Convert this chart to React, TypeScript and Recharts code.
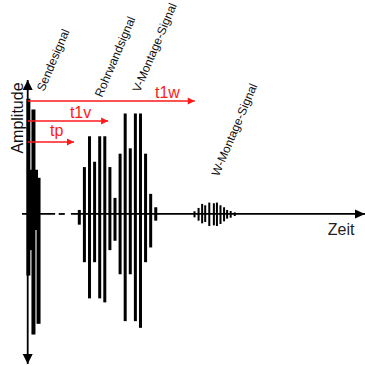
import { ComposedChart, Bar, XAxis, YAxis, ReferenceLine, ReferenceDot } from 'recharts';

// Zeit in willkürlichen Einheiten (eine Schwingungsperiode = 1), Amplitude normiert
const sendeTime = [1, 1.5, 2, 2.5, 3];
const sendeHigh = [0.86, 0.33, 0.78, 0.33, 0.27];
const sendeLow = [-0.46, -0.27, -0.9, -0.12, -0.82];

const wandTime = [11, 12, 13, 14, 15, 16, 17, 18, 19, 20, 21, 22, 23, 24, 25, 26];
const wandHigh = [0.03, 0.35, 0.58, 0.39, 0.58, 0.58, 0.35, 0.12, 0.45, 0.75, 0.49, 0.75, 0.75, 0.45, 0.15, 0.05];
const wandLow = [-0.08, -0.36, -0.63, -0.36, -0.63, -0.66, -0.27, -0.2, -0.45, -0.8, -0.45, -0.8, -0.85, -0.36, -0.25, -0.05];

const wTime = [33.6, 34.4, 35.1, 35.7, 36.5, 37.4, 38.0, 38.7, 39.4, 40.0, 40.7, 41.5];
const wHigh = [0.02, 0.045, 0.075, 0.065, 0.085, 0.08, 0.085, 0.065, 0.05, 0.03, 0.022, 0.012];
const wLow = [-0.025, -0.05, -0.07, -0.06, -0.09, -0.085, -0.09, -0.075, -0.055, -0.035, -0.028, -0.015];

const signalNames = ['Sendesignal', 'Rohrwandsignal', 'V-Montage-Signal', 'W-Montage-Signal'];
const signalLabelTime = [4.0, 15.4, 22.8, 38.3];
const signalLabelAmp = [0.91, 0.866, 0.903, 0.276];

const runTimeNames = ['tp', 't1v', 't1w'];
const runTimeEnd = [9.9, 16.6, 33.6];
const runTimeAmp = [0.537, 0.694, 0.843];
const runTimeLabelTime = [5.2, 9.1, 25.8];
const runTimeLabelAmp = [0.582, 0.716, 0.866];

const axisTime = 0.82;
const timeDomain: [number, number] = [-0.3, 67];
const ampDomain: [number, number] = [-1.12, 1];

const FONT = '"Liberation Sans", Arial, sans-serif';

const barWidth: Record<string, number> = { sende: 4, wand: 3, w: 2 };

const data = [
  ...sendeTime.map((t, i) => ({ t, range: [sendeLow[i], sendeHigh[i]], group: 'sende' })),
  ...wandTime.map((t, i) => ({ t, range: [wandLow[i], wandHigh[i]], group: 'wand' })),
  ...wTime.map((t, i) => ({ t, range: [wLow[i], wHigh[i]], group: 'w' })),
];

function PulseBar(props: any) {
  const { x, y, width, height, payload } = props;
  const w = barWidth[payload.group] ?? 3;
  const cx = x + width / 2;
  const top = Math.min(y, y + height);
  return <rect x={cx - w / 2} y={top} width={w} height={Math.abs(height)} fill="#000" />;
}

function arrow(color: string, stroke: number, len: number, half: number, both: boolean) {
  return (p: any) => {
    const { x1, y1, x2, y2 } = p;
    const d = Math.hypot(x2 - x1, y2 - y1) || 1;
    const ux = (x2 - x1) / d;
    const uy = (y2 - y1) / d;
    const head = (tx: number, ty: number, sx: number, sy: number) => {
      const bx = tx - sx * len;
      const by = ty - sy * len;
      return `${tx},${ty} ${bx - sy * half},${by + sx * half} ${bx + sy * half},${by - sx * half}`;
    };
    return (
      <g>
        <line x1={x1} y1={y1} x2={x2} y2={y2} stroke={color} strokeWidth={stroke} />
        <polygon points={head(x2, y2, ux, uy)} fill={color} />
        {both && <polygon points={head(x1, y1, -ux, -uy)} fill={color} />}
      </g>
    );
  };
}

function textLabel(text: string, opts: { size: number; color: string; rotate?: number; anchor?: string }) {
  return (p: any) => {
    const vb = p.viewBox || {};
    const x = vb.x + (vb.width || 0) / 2;
    const y = vb.y + (vb.height || 0) / 2;
    return (
      <text
        x={x}
        y={y}
        fontSize={opts.size}
        fontFamily={FONT}
        fill={opts.color}
        textAnchor={opts.anchor || 'start'}
        transform={opts.rotate ? `rotate(${opts.rotate} ${x} ${y})` : undefined}
      >
        {text}
      </text>
    );
  };
}

export default function App() {
  return (
    <div style={{ position: 'absolute', left: 0, top: 0, width: 365, height: 366, background: '#fff' }}>
      <ComposedChart width={365} height={366} data={data} margin={{ top: 80, right: 0, bottom: 2, left: 22 }}>
        <XAxis dataKey="t" type="number" domain={timeDomain} allowDataOverflow hide />
        <YAxis type="number" domain={ampDomain} allowDataOverflow hide />

        {/* Zeitachse mit unterbrochenem Stück */}
        <ReferenceLine segment={[{ x: -0.3, y: 0 }, { x: 6.2, y: 0 }]} stroke="#000" strokeWidth={1.8} />
        <ReferenceLine segment={[{ x: 6.9, y: 0 }, { x: 8.1, y: 0 }]} stroke="#000" strokeWidth={1.8} />
        <ReferenceLine
          segment={[{ x: 9.3, y: 0 }, { x: 67, y: 0 }]}
          shape={arrow('#000', 1.8, 10, 4.5, false)}
        />
        {/* Amplitudenachse */}
        <ReferenceLine
          segment={[{ x: axisTime, y: -1.12 }, { x: axisTime, y: 1 }]}
          shape={arrow('#000', 1.8, 10, 5, true)}
        />

        <Bar dataKey="range" barSize={2} isAnimationActive={false} shape={<PulseBar />} />

        {runTimeNames.map((n, i) => (
          <ReferenceLine
            key={n}
            segment={[{ x: axisTime, y: runTimeAmp[i] }, { x: runTimeEnd[i], y: runTimeAmp[i] }]}
            shape={arrow('#ff1a1a', 1.4, 7, 3.5, false)}
          />
        ))}
        {runTimeNames.map((n, i) => (
          <ReferenceDot
            key={'l' + n}
            x={runTimeLabelTime[i]}
            y={runTimeLabelAmp[i]}
            r={0}
            fill="none"
            stroke="none"
            label={{ content: textLabel(n, { size: 16, color: '#ff1a1a' }) }}
          />
        ))}
        {signalNames.map((n, i) => (
          <ReferenceDot
            key={n}
            x={signalLabelTime[i]}
            y={signalLabelAmp[i]}
            r={0}
            fill="none"
            stroke="none"
            label={{ content: textLabel(n, { size: 12, color: '#111', rotate: -67 }) }}
          />
        ))}
        <ReferenceDot
          x={-0.1}
          y={0.716}
          r={0}
          fill="none"
          stroke="none"
          label={{ content: textLabel('Amplitude', { size: 16, color: '#111', rotate: -90, anchor: 'middle' }) }}
        />
        <ReferenceDot
          x={59.7}
          y={-0.157}
          r={0}
          fill="none"
          stroke="none"
          label={{ content: textLabel('Zeit', { size: 16, color: '#222' }) }}
        />
      </ComposedChart>
    </div>
  );
}
